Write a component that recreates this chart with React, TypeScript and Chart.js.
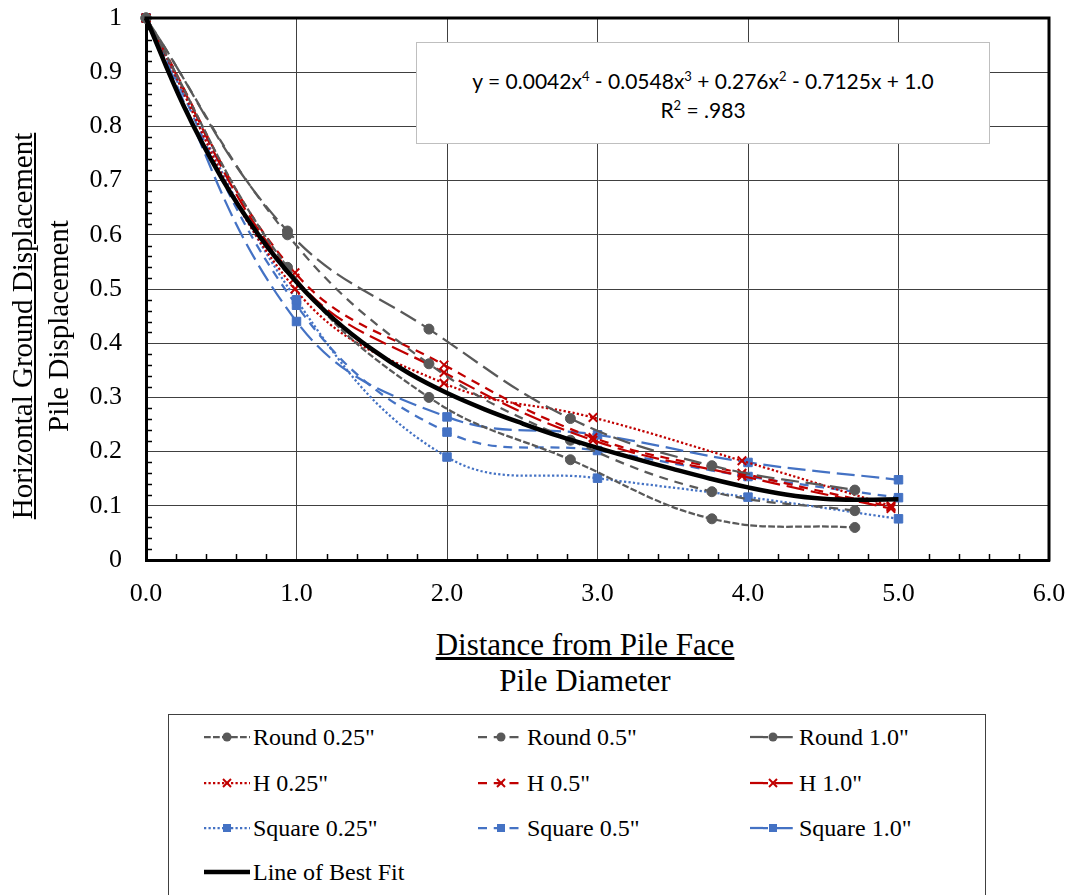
import React, { useEffect, useRef } from 'react';
import { Chart, registerables } from 'chart.js';

Chart.register(...registerables);

// ---------- data ----------
const roundX = [0, 0.94, 1.88, 2.82, 3.76, 4.71];
const hX = [0, 0.99, 1.98, 2.97, 3.96, 4.95];
const squareX = [0, 1, 2, 3, 4, 5];

const round025 = [1, 0.54, 0.3, 0.185, 0.076, 0.06];
const round05 = [1, 0.6, 0.362, 0.221, 0.126, 0.091];
const round10 = [1, 0.607, 0.426, 0.261, 0.174, 0.129];

const h025 = [1, 0.5, 0.326, 0.263, 0.183, 0.1];
const h05 = [1, 0.53, 0.36, 0.226, 0.16, 0.098];
const h10 = [1, 0.52, 0.346, 0.221, 0.155, 0.095];

const sq025 = [1, 0.48, 0.19, 0.151, 0.116, 0.076];
const sq05 = [1, 0.47, 0.236, 0.202, 0.154, 0.115];
const sq10 = [1, 0.44, 0.264, 0.231, 0.18, 0.148];

const fitX = [0, 0.25, 0.5, 0.75, 1, 1.25, 1.5, 1.75, 2, 2.25, 2.5, 2.75, 3, 3.25, 3.5, 3.75, 4, 4.25, 4.5, 4.75, 5];
const fitY = [1, 0.838, 0.706, 0.599, 0.513, 0.444, 0.389, 0.344, 0.308, 0.278, 0.252, 0.228, 0.207, 0.187, 0.168, 0.15, 0.134, 0.121, 0.113, 0.111, 0.112];

const xTickLabels = ['0.0', '1.0', '2.0', '3.0', '4.0', '5.0', '6.0'];
const yTickLabels = ['0', '0.1', '0.2', '0.3', '0.4', '0.5', '0.6', '0.7', '0.8', '0.9', '1'];

const seriesLabels = ['Round 0.25"', 'Round 0.5"', 'Round 1.0"', 'H 0.25"', 'H 0.5"', 'H 1.0"', 'Square 0.25"', 'Square 0.5"', 'Square 1.0"'];
const fitLabel = 'Line of Best Fit';

// ---------- styles ----------
const GRAY = '#595959';
const RED = '#c00000';
const BLUE = '#4472c4';
const SHORT = [6.75, 2.25];
const MED = [9, 6.75];
const LONG = [18, 6.75];
const DOT = [2.25, 2.25];

type PS = 'circle' | 'crossRot' | 'rect';
interface Series { label: string; xs: number[]; ys: number[]; color: string; dash: number[]; point: PS }

const series: Series[] = [
  { label: seriesLabels[0], xs: roundX, ys: round025, color: GRAY, dash: SHORT, point: 'circle' },
  { label: seriesLabels[1], xs: roundX, ys: round05, color: GRAY, dash: MED, point: 'circle' },
  { label: seriesLabels[2], xs: roundX, ys: round10, color: GRAY, dash: LONG, point: 'circle' },
  { label: seriesLabels[3], xs: hX, ys: h025, color: RED, dash: DOT, point: 'crossRot' },
  { label: seriesLabels[4], xs: hX, ys: h05, color: RED, dash: MED, point: 'crossRot' },
  { label: seriesLabels[5], xs: hX, ys: h10, color: RED, dash: LONG, point: 'crossRot' },
  { label: seriesLabels[6], xs: squareX, ys: sq025, color: BLUE, dash: DOT, point: 'rect' },
  { label: seriesLabels[7], xs: squareX, ys: sq05, color: BLUE, dash: MED, point: 'rect' },
  { label: seriesLabels[8], xs: squareX, ys: sq10, color: BLUE, dash: LONG, point: 'rect' },
];

const SERIF = '"Liberation Serif", "Times New Roman", serif';

const framePlugin = {
  id: 'frame',
  afterDraw(chart: any) {
    const { ctx, chartArea } = chart;
    const { left, top, right, bottom } = chartArea;
    const xs = chart.scales.x;
    const ys = chart.scales.y;
    ctx.save();
    ctx.strokeStyle = '#000';
    ctx.lineWidth = 1.5;
    ctx.setLineDash([]);
    for (let i = 1; i < 50; i++) {
      if (i % 5 === 0) continue;
      const py = Math.round(ys.getPixelForValue(i * 0.02)) + 0.5;
      ctx.beginPath();
      ctx.moveTo(left, py);
      ctx.lineTo(left + 6, py);
      ctx.stroke();
    }
    for (let i = 1; i < 30; i++) {
      if (i % 5 === 0) continue;
      const px = Math.round(xs.getPixelForValue(i * 0.2)) + 0.5;
      ctx.beginPath();
      ctx.moveTo(px, bottom);
      ctx.lineTo(px, bottom - 6);
      ctx.stroke();
    }
    ctx.lineWidth = 3;
    ctx.beginPath();
    ctx.moveTo(left - 1.5, top);
    ctx.lineTo(right, top);
    ctx.lineTo(right, bottom + 1.5);
    ctx.stroke();
    ctx.restore();
  },
};

function LegendSymbol({ color, dash, point, width, thick }: { color: string; dash: number[]; point?: PS; width: number; thick?: boolean }) {
  const h = 14;
  const c = h / 2;
  const mid = width / 2;
  return (
    <svg width={width} height={h} style={{ display: 'block' }}>
      <line x1={0} y1={c} x2={width} y2={c} stroke={color} strokeWidth={thick ? 4.5 : 2.25} strokeDasharray={dash.length ? dash.join(',') : undefined} />
      {point === 'circle' && <circle cx={mid} cy={c} r={4.5} fill={color} />}
      {point === 'rect' && <rect x={mid - 4} y={c - 4} width={8} height={8} fill={color} />}
      {point === 'crossRot' && (
        <g stroke={color} strokeWidth={2}>
          <line x1={mid - 4} y1={c - 4} x2={mid + 4} y2={c + 4} />
          <line x1={mid - 4} y1={c + 4} x2={mid + 4} y2={c - 4} />
        </g>
      )}
    </svg>
  );
}

export default function App() {
  const canvasRef = useRef<HTMLCanvasElement | null>(null);

  useEffect(() => {
    document.body.style.margin = '0';
    const canvas = canvasRef.current;
    if (!canvas) return;
    const datasets: any[] = series.map((s) => ({
      label: s.label,
      data: s.xs.map((x, i) => ({ x, y: s.ys[i] })),
      borderColor: s.color,
      backgroundColor: s.color,
      borderWidth: 2.25,
      borderDash: s.dash,
      pointStyle: s.point,
      pointRadius: s.point === 'circle' ? 5 : 6,
      pointBorderWidth: s.point === 'crossRot' ? 2 : 1,
      pointBackgroundColor: s.color,
      pointBorderColor: s.color,
      tension: 0.4,
      clip: false,
      order: 1,
    }));
    datasets.push({
      label: fitLabel,
      data: fitX.map((x, i) => ({ x, y: fitY[i] })),
      borderColor: '#000',
      backgroundColor: '#000',
      borderWidth: 4.5,
      pointRadius: 0,
      tension: 0.4,
      clip: false,
      order: 0,
    });

    const chart = new Chart(canvas, {
      type: 'line',
      data: { datasets },
      options: {
        animation: false,
        responsive: false,
        events: [],
        layout: { padding: { top: 18, right: 22, bottom: 0, left: 0 } },
        plugins: { legend: { display: false }, tooltip: { enabled: false }, title: { display: false } },
        scales: {
          x: {
            type: 'linear',
            min: 0,
            max: 6,
            ticks: {
              stepSize: 1,
              autoSkip: false,
              maxRotation: 0,
              padding: 19,
              color: '#000',
              font: { family: SERIF, size: 26 },
              callback: (_v: any, i: number) => xTickLabels[i],
            },
            grid: { color: '#404040', lineWidth: 1, drawTicks: false },
            border: { display: true, color: '#000', width: 3 },
            afterFit: (s: any) => { s.height = 60; s.paddingLeft = 0; s.paddingRight = 0; s.paddingTop = 0; s.paddingBottom = 0; },
          },
          y: {
            type: 'linear',
            min: 0,
            max: 1,
            ticks: {
              stepSize: 0.1,
              autoSkip: false,
              padding: 24,
              color: '#000',
              font: { family: SERIF, size: 26 },
              callback: (_v: any, i: number) => yTickLabels[i],
            },
            grid: { color: '#404040', lineWidth: 1, drawTicks: false },
            border: { display: true, color: '#000', width: 3 },
            afterFit: (s: any) => { s.width = 146; s.paddingLeft = 0; s.paddingRight = 0; s.paddingTop = 0; s.paddingBottom = 0; },
          },
        },
      } as any,
      plugins: [framePlugin],
    });
    return () => chart.destroy();
  }, []);

  const legendCols = [204, 478, 750];
  const legendRows = [737, 783, 828, 872];
  const legendItems = series.map((s, i) => ({ s, col: i % 3, row: Math.floor(i / 3) }));
  const supStyle = { fontSize: 13, lineHeight: 0 } as const;

  return (
    <div style={{ position: 'absolute', left: 0, top: 0, width: 1071, height: 895, background: '#fff', overflow: 'hidden' }}>
      <canvas ref={canvasRef} width={1071} height={620} style={{ position: 'absolute', left: 0, top: 0, width: 1071, height: 620 }} />

      {/* equation box */}
      <div style={{ position: 'absolute', left: 416, top: 42, width: 572, height: 100, background: '#fff', border: '1.5px solid #bfbfbf', fontFamily: 'Lato, "Open Sans", sans-serif', fontSize: 21, color: '#000', textAlign: 'center' }}>
        <div style={{ position: 'absolute', left: 0, right: 0, top: 23, lineHeight: '29px' }}>
          y = 0.0042x<sup style={supStyle}>4</sup> - 0.0548x<sup style={supStyle}>3</sup> + 0.276x<sup style={supStyle}>2</sup> - 0.7125x + 1.0
          <br />
          R<sup style={supStyle}>2</sup> = .983
        </div>
      </div>

      {/* x axis title */}
      <div style={{ position: 'absolute', left: 335, width: 500, top: 627, textAlign: 'center', fontFamily: SERIF, fontSize: 31, lineHeight: '36px', color: '#000' }}>
        <div><span style={{ textDecoration: 'underline' }}>Distance from Pile Face</span></div>
        <div>Pile Diameter</div>
      </div>

      {/* y axis title */}
      <div style={{ position: 'absolute', left: 40 - 230, top: 326 - 36, width: 460, height: 72, transform: 'rotate(-90deg)', transformOrigin: '50% 50%', textAlign: 'center', fontFamily: SERIF, fontSize: 29, lineHeight: '36px', color: '#000' }}>
        <div><span style={{ textDecoration: 'underline' }}>Horizontal Ground Displacement</span></div>
        <div>Pile Displacement</div>
      </div>

      {/* legend */}
      <div style={{ position: 'absolute', left: 168, top: 714, width: 818, height: 220, border: '1.5px solid #404040', background: '#fff', boxSizing: 'border-box' }} />
      {legendItems.map(({ s, col, row }) => (
        <div key={s.label} style={{ position: 'absolute', left: legendCols[col], top: legendRows[row] - 14, height: 28, display: 'flex', alignItems: 'center', fontFamily: SERIF, fontSize: 24, color: '#000', whiteSpace: 'nowrap' }}>
          <LegendSymbol color={s.color} dash={s.dash} point={s.point} width={46} />
          <span style={{ marginLeft: 3 }}>{s.label}</span>
        </div>
      ))}
      <div style={{ position: 'absolute', left: legendCols[0], top: legendRows[3] - 14, height: 28, display: 'flex', alignItems: 'center', fontFamily: SERIF, fontSize: 24, color: '#000', whiteSpace: 'nowrap' }}>
        <LegendSymbol color="#000" dash={[]} width={46} thick />
        <span style={{ marginLeft: 3 }}>{fitLabel}</span>
      </div>
    </div>
  );
}
